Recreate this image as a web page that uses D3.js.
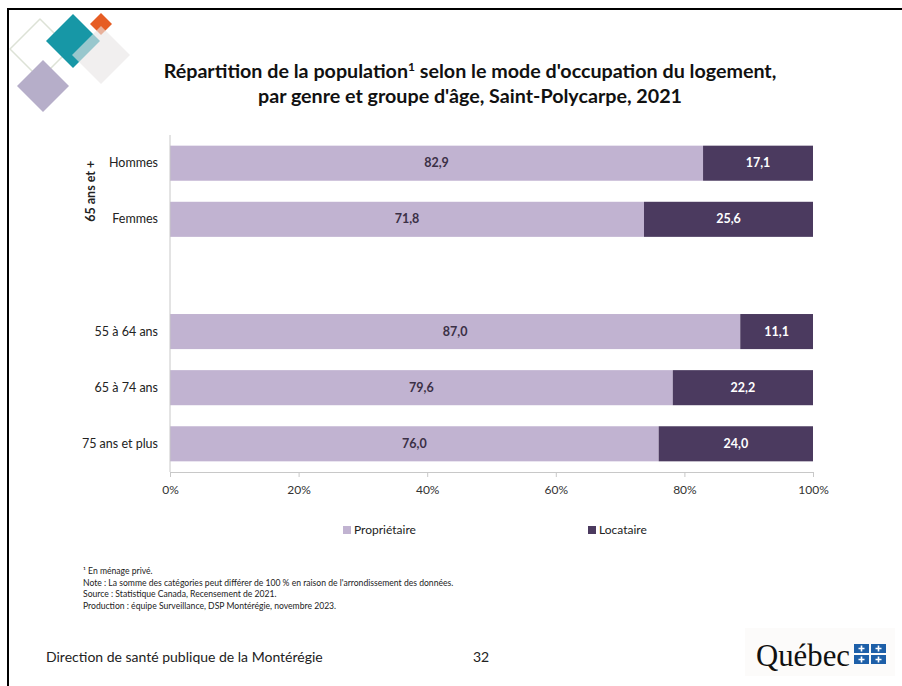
<!DOCTYPE html>
<html>
<head>
<meta charset="utf-8">
<script src="https://cdn.jsdelivr.net/npm/d3@7"></script>
<style>
  body { margin: 0; background: #fff; }
  svg { display: block; font-family: Lato, "Open Sans", sans-serif; }
</style>
</head>
<body>
<svg id="chart" width="902" height="686"></svg>
<script>
// data
const categories = ['Hommes', 'Femmes', '', '55 à 64 ans', '65 à 74 ans', '75 ans et plus'];
const proprietaire = [82.9, 71.8, null, 87.0, 79.6, 76.0];
const locataire = [17.1, 25.6, null, 11.1, 22.2, 24.0];
const seriesNames = ['Propriétaire', 'Locataire'];
const xTicks = [0, 0.2, 0.4, 0.6, 0.8, 1];
const notes = [
  '¹ En ménage privé.',
  'Note : La somme des catégories peut différer de 100 % en raison de l\'arrondissement des données.',
  'Source : Statistique Canada, Recensement de 2021.',
  'Production : équipe Surveillance, DSP Montérégie, novembre 2023.'
];

const colors = ['#c1b3d1', '#4b3a5f'];
const svg = d3.select('#chart');

// slide frame
svg.append('path')
  .attr('d', 'M8,686 V9 H902')
  .attr('fill', 'none')
  .attr('stroke', '#000')
  .attr('stroke-width', 2);

// corner decoration (grey one sits on top, half transparent)
const deco = [
  { cx: 40, cy: 49, r: 30, fill: 'none', stroke: '#dde2d6', op: 1 },
  { cx: 73, cy: 41, r: 27, fill: '#1797a6', stroke: 'none', op: 1 },
  { cx: 101, cy: 24, r: 11, fill: '#e65d24', stroke: 'none', op: 1 },
  { cx: 101, cy: 55, r: 29, fill: '#e9e5e5', stroke: 'none', op: 0.62 },
  { cx: 43, cy: 86, r: 26, fill: '#b6aec9', stroke: 'none', op: 1 }
];
svg.append('g').selectAll('path').data(deco).join('path')
  .attr('d', d => `M${d.cx},${d.cy - d.r} L${d.cx + d.r},${d.cy} L${d.cx},${d.cy + d.r} L${d.cx - d.r},${d.cy} Z`)
  .attr('fill', d => d.fill)
  .attr('fill-opacity', d => d.op)
  .attr('stroke', d => d.stroke)
  .attr('stroke-width', 1.5)
  .attr('stroke-linejoin', 'round');

// title
const title = svg.append('text')
  .attr('x', 470).attr('y', 78)
  .attr('text-anchor', 'middle')
  .attr('font-size', 19.7).attr('font-weight', 'bold').attr('fill', '#111');
title.append('tspan').text('Répartition de la population');
title.append('tspan').text('1').attr('font-size', 12).attr('dy', -7);
title.append('tspan').text(' selon le mode d\'occupation du logement,').attr('dy', 7);
svg.append('text')
  .attr('x', 470).attr('y', 103)
  .attr('text-anchor', 'middle')
  .attr('font-size', 19.7).attr('font-weight', 'bold').attr('fill', '#111')
  .text('par genre et groupe d\'âge, Saint-Polycarpe, 2021');

// chart area
const x = d3.scaleLinear().domain([0, 1]).range([170, 813]);
const y = d3.scaleBand().domain(d3.range(categories.length)).range([135, 472]).paddingInner(0.375).paddingOuter(0.19);

const rows = categories.map((c, i) => ({ i, cat: c, p: proprietaire[i], l: locataire[i] }))
  .filter(d => d.p != null);
const stack = d3.stack().keys(['p', 'l']).offset(d3.stackOffsetExpand);
const layers = stack(rows);

const g = svg.append('g');
layers.forEach((layer, k) => {
  g.append('g').selectAll('rect').data(layer).join('rect')
    .attr('x', d => x(d[0]))
    .attr('y', d => y(d.data.i))
    .attr('width', d => x(d[1]) - x(d[0]))
    .attr('height', y.bandwidth())
    .attr('fill', colors[k]);
  g.append('g').selectAll('text').data(layer).join('text')
    .attr('x', d => (x(d[0]) + x(d[1])) / 2)
    .attr('y', d => y(d.data.i) + y.bandwidth() / 2 + 4)
    .attr('text-anchor', 'middle')
    .attr('font-size', 12.5).attr('font-weight', 'bold')
    .attr('fill', k === 0 ? '#3b3046' : '#fff')
    .text(d => d3.format('.1f')(d.data[layer.key]).replace('.', ','));
});

// y axis line + category labels
svg.append('line')
  .attr('x1', 170).attr('x2', 170).attr('y1', 135).attr('y2', 472)
  .attr('stroke', '#c8c8c8');
svg.append('g').selectAll('text').data(categories.map((c, i) => ({ c, i }))).join('text')
  .attr('x', 158)
  .attr('y', d => y(d.i) + y.bandwidth() / 2 + 4)
  .attr('text-anchor', 'end')
  .attr('font-size', 12.5).attr('fill', '#222')
  .text(d => d.c);
svg.append('text')
  .attr('transform', `translate(95,${(y(0) + y(1) + y.bandwidth()) / 2}) rotate(-90)`)
  .attr('text-anchor', 'middle')
  .attr('font-size', 12.5).attr('font-weight', 'bold').attr('fill', '#222')
  .text('65 ans et +');

// x axis
const xAxis = svg.append('g')
  .attr('transform', 'translate(0,472)')
  .call(d3.axisBottom(x).tickValues(xTicks).tickFormat(d3.format('.0%')).tickSizeOuter(0).tickSize(5).tickPadding(8));
xAxis.select('.domain').attr('stroke', '#c8c8c8');
xAxis.selectAll('line').attr('stroke', '#c8c8c8');
xAxis.selectAll('text').attr('font-size', 12).attr('fill', '#333').attr('font-family', 'Lato, sans-serif');

// legend
const legendX = [343, 588];
const legend = svg.append('g').selectAll('g').data(seriesNames).join('g')
  .attr('transform', (d, i) => `translate(${legendX[i]},526)`);
legend.append('rect').attr('width', 8).attr('height', 8).attr('fill', (d, i) => colors[i]);
legend.append('text').attr('x', 11).attr('y', 8).attr('font-size', 12).attr('fill', '#222').text(d => d);

// notes
svg.append('g').selectAll('text').data(notes).join('text')
  .attr('x', 83)
  .attr('y', (d, i) => 574 + i * 11.5)
  .attr('font-size', 8.6).attr('fill', '#222')
  .text(d => d);

// footer
svg.append('text').attr('x', 46).attr('y', 662)
  .attr('font-size', 14).attr('fill', '#222')
  .text('Direction de santé publique de la Montérégie');
svg.append('text').attr('x', 473).attr('y', 662)
  .attr('font-size', 14).attr('fill', '#222')
  .text('32');

// Québec signature
svg.append('rect').attr('x', 745).attr('y', 628).attr('width', 150).attr('height', 48).attr('fill', '#fcfbfa');
svg.append('text').attr('x', 756).attr('y', 666)
  .attr('font-family', '"Liberation Serif", "DejaVu Serif", serif')
  .attr('font-size', 31).attr('fill', '#111')
  .attr('textLength', 94).attr('lengthAdjust', 'spacingAndGlyphs')
  .text('Québec');
const flag = svg.append('g').attr('transform', 'translate(854,644)');
[[0, 0], [17, 0], [0, 11], [17, 11]].forEach(([dx, dy]) => {
  flag.append('rect').attr('x', dx).attr('y', dy).attr('width', 15).attr('height', 9).attr('fill', '#1d5fa8');
  flag.append('path')
    .attr('d', `M${dx + 7.5},${dy + 1.5} v6 M${dx + 4.5},${dy + 4.5} h6`)
    .attr('stroke', '#fff').attr('stroke-width', 1.6);
});
</script>
</body>
</html>
